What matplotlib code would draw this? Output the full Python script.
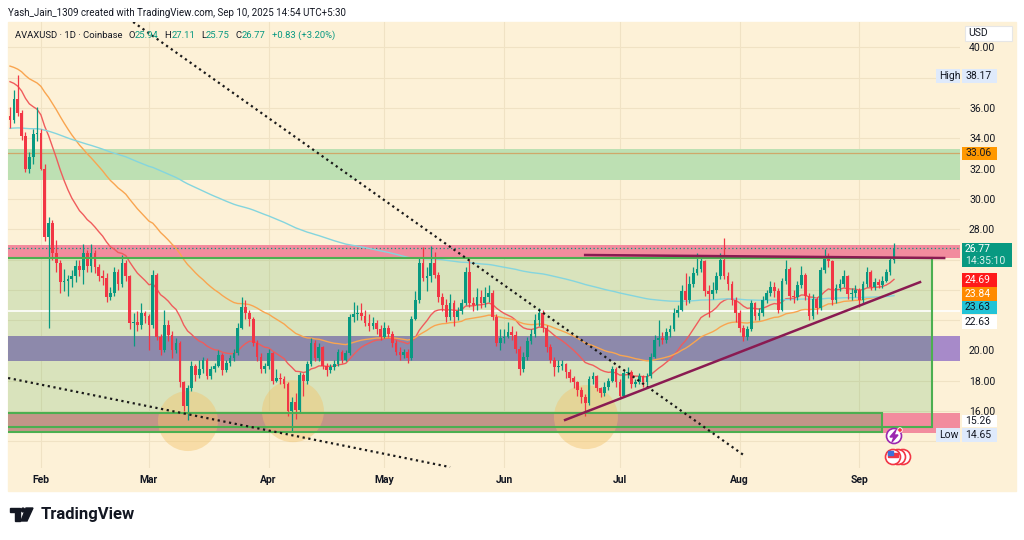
import numpy as np
import matplotlib.pyplot as plt
from matplotlib.patches import Rectangle, Polygon, Ellipse

plt.rcParams['font.family'] = ['Roboto', 'DejaVu Sans']

# AVAXUSD daily candles, Jan 24 2025 (index 0) .. Sep 10 2025 (index 229)
closes = [
    35.2, 36.6, 35.7, 34.15, 32.0, 32.8, 34.3, 34.35,
    # Feb
    32.0, 27.5, 28.4, 26.4, 25.8, 24.5, 24.6, 24.7, 24.9, 25.6, 25.3, 26.4, 25.6, 26.4,
    25.5, 24.9, 24.8, 23.5, 23.8, 25.2, 24.4, 25.8, 24.9, 21.8, 21.9, 21.7, 22.5, 22.3,
    # Mar
    21.7, 25.0, 20.9, 20.0, 21.7, 21.0, 20.0, 20.5, 17.9, 16.3, 17.5, 19.0, 18.4, 18.8,
    19.4, 18.3, 18.8, 19.0, 19.7, 18.7, 19.2, 19.5, 19.8, 21.5, 22.9, 22.5, 22.1, 20.5,
    19.6, 18.8, 19.0,
    # Apr
    19.8, 18.0, 18.2, 18.1, 17.8, 16.0, 16.6, 16.1, 18.4, 18.0, 19.1, 20.5, 19.5, 20.2,
    19.0, 18.7, 18.9, 19.1, 19.9, 19.4, 19.8, 22.2, 22.4, 22.5, 22.3, 21.8, 21.6, 21.8,
    21.4, 20.9,
    # May
    21.5, 21.1, 20.5, 19.9, 19.7, 19.9, 19.5, 22.1, 23.3, 25.8, 24.8, 24.9, 25.8, 25.0,
    23.5, 23.0, 22.2, 23.1, 22.2, 22.6, 23.1, 25.2, 23.1, 23.0, 23.5, 23.1, 23.5, 23.8,
    22.2, 20.5, 20.8,
    # Jun
    20.9, 21.2, 21.0, 20.1, 18.8, 19.6, 20.6, 21.1, 22.0, 22.5, 21.5, 20.2, 19.4, 18.9,
    19.0, 19.1, 18.6, 18.2, 17.9, 17.4, 16.9, 16.5, 18.1, 18.3, 17.5, 17.2, 17.6, 18.0,
    18.8, 17.9,
    # Jul
    17.0, 18.5, 18.6, 17.8, 17.9, 18.3, 17.9, 18.3, 19.6, 20.7, 20.8, 20.7, 21.2, 21.4,
    22.5, 22.7, 23.9, 23.3, 24.4, 25.1, 25.4, 25.9, 23.9, 23.7, 24.0, 24.9, 26.0, 24.9,
    24.4, 23.3, 22.5,
    # Aug
    21.5, 20.9, 21.4, 23.1, 22.3, 22.5, 23.3, 23.8, 24.2, 23.9, 22.7, 24.6, 25.4, 23.6,
    23.5, 24.3, 25.0, 23.6, 22.3, 23.4, 22.8, 25.3, 26.2, 25.9, 23.3, 24.1, 24.4, 24.9,
    23.7, 23.8, 24.0,
    # Sep
    23.3, 24.4, 25.2, 24.2, 24.5, 24.3, 24.6, 25.2, 25.94, 26.77,
]
highs = [
    36.1, 37.2, 38.17, 35.9, 34.4, 33.1, 34.6, 36.1,
    34.6, 32.3, 28.8, 28.6, 27.3, 26.0, 25.4, 25.0, 25.3, 26.0, 26.0, 27.0, 26.6, 27.0,
    26.6, 25.7, 25.3, 25.1, 24.2, 25.5, 25.4, 26.3, 26.0, 25.0, 22.5, 22.6, 23.1, 22.6,
    22.4, 25.3, 25.1, 21.1, 22.7, 22.0, 21.3, 20.8, 20.6, 18.0, 17.7, 19.3, 19.1, 19.4,
    19.6, 19.5, 19.0, 19.2, 20.0, 19.8, 19.4, 19.7, 20.1, 21.8, 23.5, 23.3, 22.7, 22.2,
    20.7, 19.8, 19.2,
    20.1, 19.9, 18.8, 18.5, 18.3, 17.9, 16.9, 17.2, 18.6, 18.5, 19.3, 20.8, 20.7, 20.5,
    20.3, 19.2, 19.1, 19.4, 20.1, 20.0, 20.0, 22.4, 23.2, 23.0, 23.1, 22.7, 22.4, 22.2,
    22.0, 21.7,
    21.9, 21.7, 21.3, 20.7, 20.2, 20.1, 20.1, 22.3, 23.9, 26.1, 26.8, 25.5, 26.9, 26.5,
    25.2, 23.8, 23.4, 23.7, 23.3, 22.9, 23.4, 25.5, 26.0, 23.5, 24.1, 24.0, 24.2, 24.3,
    24.0, 22.4, 21.4,
    21.4, 21.9, 21.6, 21.3, 20.3, 19.9, 20.9, 21.4, 22.4, 22.8, 22.7, 21.7, 20.4, 19.6,
    19.4, 19.4, 19.2, 18.8, 18.3, 18.0, 17.6, 17.1, 18.3, 18.6, 18.4, 17.6, 17.9, 18.2,
    19.0, 18.9,
    18.1, 18.7, 18.9, 18.7, 18.1, 18.5, 18.4, 18.5, 19.8, 21.0, 22.0, 21.2, 21.5, 21.7,
    22.8, 23.0, 24.3, 25.1, 24.9, 25.5, 26.4, 26.2, 26.0, 24.3, 24.5, 25.2, 26.4, 27.4,
    25.2, 24.6, 23.5,
    22.7, 21.7, 21.6, 23.3, 23.2, 22.8, 23.6, 24.0, 24.6, 24.5, 24.1, 24.8, 26.0, 25.5,
    24.0, 24.6, 25.6, 25.1, 23.8, 23.7, 23.5, 25.5, 26.7, 26.4, 26.0, 24.4, 24.7, 25.3,
    25.0, 24.1, 24.3,
    24.1, 24.6, 25.5, 25.3, 24.8, 24.7, 24.9, 25.4, 26.1, 27.11,
]
lows = [
    34.7, 35.0, 35.5, 33.9, 31.8, 31.7, 32.3, 33.8,
    31.9, 27.2, 21.5, 26.0, 25.2, 23.8, 23.9, 23.6, 24.2, 24.5, 24.9, 24.4, 25.2, 25.2,
    25.1, 24.6, 24.3, 23.2, 23.3, 23.6, 24.0, 24.2, 24.6, 21.4, 20.3, 21.3, 21.4, 21.8,
    20.0, 21.5, 20.7, 19.7, 19.9, 20.6, 19.5, 19.8, 17.6, 16.0, 15.4, 17.3, 18.0, 18.2,
    18.5, 18.1, 18.1, 18.6, 18.9, 18.4, 18.6, 19.0, 19.3, 19.7, 21.4, 22.1, 21.6, 20.3,
    19.3, 18.5, 18.5,
    18.8, 17.8, 17.9, 17.8, 17.5, 15.7, 14.65, 15.5, 15.9, 17.0, 17.8, 19.0, 19.3, 19.3,
    18.8, 18.3, 18.5, 18.7, 19.0, 19.2, 19.3, 19.7, 21.9, 22.0, 22.0, 21.6, 21.3, 21.4,
    21.1, 20.7,
    20.8, 20.9, 20.2, 19.7, 19.4, 19.5, 19.2, 19.4, 22.0, 23.1, 24.6, 23.9, 24.5, 24.8,
    23.2, 22.6, 21.9, 22.0, 21.6, 22.0, 22.4, 23.0, 22.9, 22.6, 22.7, 22.8, 22.9, 23.2,
    22.0, 20.3, 20.0,
    20.5, 20.8, 20.7, 19.8, 18.4, 18.6, 19.4, 20.4, 20.9, 21.6, 21.2, 19.9, 19.2, 18.3,
    18.6, 18.7, 18.2, 17.9, 17.5, 17.0, 16.5, 15.7, 16.4, 17.8, 17.3, 16.9, 17.0, 17.4,
    17.9, 17.6,
    16.8, 16.9, 18.2, 17.5, 17.6, 17.8, 17.6, 17.7, 18.2, 19.5, 20.3, 20.4, 20.5, 20.9,
    21.3, 22.2, 22.6, 23.0, 23.1, 24.2, 25.0, 25.2, 23.6, 22.2, 23.4, 23.8, 24.7, 24.7,
    24.0, 23.0, 21.9,
    21.2, 20.6, 20.7, 21.3, 22.0, 22.0, 22.3, 23.1, 23.6, 23.5, 22.5, 22.6, 24.4, 23.3,
    23.1, 23.3, 24.1, 23.3, 22.0, 22.1, 22.4, 22.7, 25.1, 25.5, 23.0, 23.1, 23.9, 24.2,
    23.4, 23.3, 23.5,
    22.9, 23.1, 24.2, 24.0, 24.0, 24.1, 24.1, 24.5, 25.0, 25.75,
]
first_open = 35.5
opens = [first_open] + closes[:-1]

month_names = ['Feb', 'Mar', 'Apr', 'May', 'Jun', 'Jul', 'Aug', 'Sep']
month_starts = [8, 36, 67, 97, 128, 158, 189, 220]
price_ticks = list(range(14, 42, 2))
hidden_ticks = [14, 22, 24, 26, 38]     # covered by the price labels on the scale

# moving averages: length, value on first visible day
ema_lengths = [20, 50, 200]
ema_seeds = [37.74, 38.77, 34.66]
ema_colors = ['#f05c5c', '#f9a550', '#84d5de']

# drawn zones (price bands)
resist_zone = (31.25, 33.27)
supply_zone = (26.10, 26.95)
mid_zone = (19.27, 20.97)
demand_zone = (14.58, 15.86)
range_box = (14.94, 26.08, 238.9)     # low, high, right end (candle index)
base_box_right = 225.9
level_orange = 33.06
level_white = 22.63
last_price = 26.77

W, H = 1024, 540
fig = plt.figure(figsize=(W / 100, H / 100), dpi=100)
fig.patch.set_facecolor('white')
cream = '#fdf1d7'


def fx(x):
    return x / W


def fy(y):
    return 1 - y / H


fig.add_artist(Rectangle((fx(8), fy(491)), (1016 - 8) / W, (491 - 22) / H,
                         transform=fig.transFigure, color=cream, zorder=-10))

ax = fig.add_axes([fx(8), fy(468), (960 - 8) / W, (468 - 22) / H])
ax.set_facecolor(cream)
ax.set_xlim(-0.52, 246.1)
ax.set_ylim(12.24, 41.68)
for s in ax.spines.values():
    s.set_visible(False)

ax.set_yticks(price_ticks)
ax.set_yticklabels(['' if p in hidden_ticks else '%.2f' % p for p in price_ticks])
ax.yaxis.tick_right()
ax.tick_params(axis='y', length=0, pad=6.5, labelsize=7.5, labelcolor='#131722')
ax.set_xticks(month_starts)
ax.set_xticklabels(month_names, fontweight='bold')
ax.tick_params(axis='x', length=0, pad=5, labelsize=7.5, labelcolor='#131722')
ax.set_axisbelow(True)
ax.grid(True, color='#f0e2c4', lw=0.8)

# zones
big = 260
ax.add_patch(Rectangle((-5, resist_zone[0]), big, resist_zone[1] - resist_zone[0],
                       color='#bde0b3', lw=0, zorder=1))
ax.add_patch(Rectangle((-5, supply_zone[0]), big, supply_zone[1] - supply_zone[0],
                       color='#f28c9e', lw=0, zorder=1))
lo, hi, rx = range_box
ax.add_patch(Rectangle((-5, lo), rx + 5, hi - lo, facecolor='#4caf50', alpha=0.2,
                       lw=0, zorder=1))
ax.add_patch(Rectangle((-5, mid_zone[0]), rx + 5, mid_zone[1] - mid_zone[0],
                       color='#8d89ab', lw=0, zorder=1.2))
ax.add_patch(Rectangle((rx, mid_zone[0]), big, mid_zone[1] - mid_zone[0],
                       color='#a78ac9', lw=0, zorder=1.2))
ax.add_patch(Rectangle((-5, demand_zone[0]), big, demand_zone[1] - demand_zone[0],
                       color='#f28c9e', lw=0, zorder=1.3))
ax.add_patch(Rectangle((-5, demand_zone[0]), base_box_right + 5,
                       demand_zone[1] - demand_zone[0], facecolor='#4caf50',
                       alpha=0.28, lw=0, zorder=1.4))

ax.axhline(level_orange, color='#cfa86a', lw=0.9, zorder=1.5)
ax.axhline(level_white, color='white', lw=1.2, zorder=1.5)
ax.axhline(last_price, color='#089981', lw=0.9, ls=(0, (1, 2)), zorder=2)

# highlighted lows
ax.scatter([46.1, 73.3, 149.2], [15.34, 15.99, 15.6],
           s=[(1.44 * r) ** 2 for r in (30, 31, 32)],
           color='#f2c46d', alpha=0.45, lw=0, zorder=1.6)

# moving averages
x = np.arange(len(closes))
c = np.array(closes)
for n, seed, col in zip(ema_lengths, ema_seeds, ema_colors):
    a = 2 / (n + 1)
    e = [seed]
    for v in c[1:]:
        e.append(e[-1] + a * (v - e[-1]))
    ax.plot(x, e, color=col, lw=1.0, zorder=2.5)

# candles
o = np.array(opens)
up = c >= o
cols = np.where(up, '#089981', '#f23645')
ax.vlines(x, lows, highs, colors=cols, lw=0.9, zorder=2.9)
ax.bar(x, np.maximum(np.abs(c - o), 0.06), bottom=np.minimum(o, c), width=0.7,
       color=cols, lw=0, zorder=3)

# box outlines
ax.add_patch(Rectangle((-5, lo), rx + 5, hi - lo, fill=False, edgecolor='#4caf50',
                       lw=1.5, zorder=3.5))
ax.add_patch(Rectangle((-5, demand_zone[0] + 0.03), base_box_right + 5,
                       demand_zone[1] - demand_zone[0] - 0.03, fill=False,
                       edgecolor='#4caf50', lw=1.5, zorder=3.5))

# trend lines
ax.plot([31.9, 190.4], [41.68, 13.03], color='#1a1a1a', lw=1.6, ls=(0, (1, 1.6)), zorder=4)
ax.plot([-0.5, 114], [18.18, 12.3], color='#1a1a1a', lw=1.6, ls=(0, (1, 1.6)), zorder=4)
ax.plot([143.8, 235.75], [15.41, 24.51], color='#8a1b52', lw=1.8, zorder=4)
ax.plot([149, 242], [26.30, 26.10], color='#8a1b52', lw=1.8, zorder=4)

# header
dark = '#131722'
teal = '#089981'
fig.text(fx(8), fy(13), 'Yash_Jain_1309 created with TradingView.com, Sep 10, 2025 14:54 UTC+5:30',
         fontsize=7, color=dark, va='center')
legend_parts = [('AVAXUSD · 1D · Coinbase', dark, 6), ('O', dark, 0), ('25.94', teal, 6),
                ('H', dark, 0), ('27.11', teal, 6), ('L', dark, 0), ('25.75', teal, 6),
                ('C', dark, 0), ('26.77', teal, 6), ('+0.83 (+3.20%)', teal, 0)]
renderer = fig.canvas.get_renderer()
px = 15
for txt, col, gap in legend_parts:
    t = fig.text(fx(px), fy(35), txt, fontsize=6.8, color=col, va='center')
    px = t.get_window_extent(renderer).x1 + gap


def fig_box(x0, y0, x1, y1, color, text, tcol, ec='none'):
    fig.add_artist(Rectangle((fx(x0), fy(y1)), (x1 - x0) / W, (y1 - y0) / H,
                             transform=fig.transFigure, facecolor=color, edgecolor=ec,
                             lw=0.8, zorder=5))
    fig.text(fx(x0 + 3), fy((y0 + y1) / 2), text, fontsize=7.5, color=tcol,
             va='center', zorder=6)


light_blue = '#dfeafb'
fig_box(965, 26, 1012, 41, 'white', 'USD', dark, ec='#e6e6e6')
fig_box(936, 69, 960, 83, light_blue, 'High', dark)
fig_box(962, 69, 997, 83, light_blue, '38.17', dark)
fig_box(962, 147, 997, 160, '#ff9800', '33.06', dark)
fig_box(962, 243, 1012, 267, '#089981', '', 'white')
fig.text(fx(965), fy(249), '26.77', fontsize=7.5, color='white', va='center', zorder=6)
fig.text(fx(965), fy(261), '14:35:10', fontsize=7.5, color='#d8f0ea', va='center', zorder=6)
fig_box(962, 273, 997, 287, '#ff1a1a', '24.69', 'white')
fig_box(962, 287, 997, 301, '#ff8a00', '23.84', 'white')
fig_box(962, 301, 997, 314, '#22c3d6', '23.63', dark)
fig_box(962, 315, 997, 329, 'white', '22.63', dark)
fig_box(962, 415, 997, 427, 'white', '15.26', dark)
fig_box(936, 428, 960, 442, light_blue, 'Low', dark)
fig_box(962, 428, 997, 442, light_blue, '14.65', dark)


def fig_circle(cx, cy, r, fc, ec, lw=1.2, z=6):
    fig.add_artist(Ellipse((fx(cx), fy(cy)), 2 * r / W, 2 * r / H, transform=fig.transFigure,
                           facecolor=fc, edgecolor=ec, lw=lw, zorder=z))


# event icons
fig_circle(894, 436, 7.5, 'white', '#9c27b0')
fig.add_artist(Polygon([(fx(896), fy(430)), (fx(890), fy(437)), (fx(894), fy(437)),
                        (fx(892), fy(442)), (fx(898), fy(435)), (fx(894), fy(435))],
                       transform=fig.transFigure, color='#9c27b0', zorder=7))
fig_circle(900, 430, 2.3, '#f23645', 'white', lw=0.6, z=8)
for cxp in (903, 898, 893):
    fig_circle(cxp, 457, 7.5, 'white', '#f23645', z=6)
fig.add_artist(Rectangle((fx(888), fy(457)), 10 / W, 4 / H, transform=fig.transFigure,
                         color='#f23645', zorder=7))
fig.add_artist(Rectangle((fx(888), fy(455)), 5 / W, 4 / H, transform=fig.transFigure,
                         color='#3f6fd8', zorder=7))

# logo
logo = '#131722'
fig.add_artist(Polygon([(fx(10), fy(508)), (fx(20), fy(508)), (fx(20), fy(521)), (fx(15), fy(521)),
                        (fx(15), fy(512)), (fx(10), fy(512))], transform=fig.transFigure,
                       color=logo, zorder=7))
fig_circle(23, 510, 2.2, logo, logo, lw=0.5, z=7)
fig.add_artist(Polygon([(fx(26), fy(508)), (fx(33), fy(508)), (fx(27), fy(521)), (fx(21), fy(521))],
                       transform=fig.transFigure, color=logo, zorder=7))
fig.text(fx(41), fy(515), 'TradingView', fontsize=12, fontweight='bold', color=logo, va='center')

fig.savefig('out.png', dpi=100)
